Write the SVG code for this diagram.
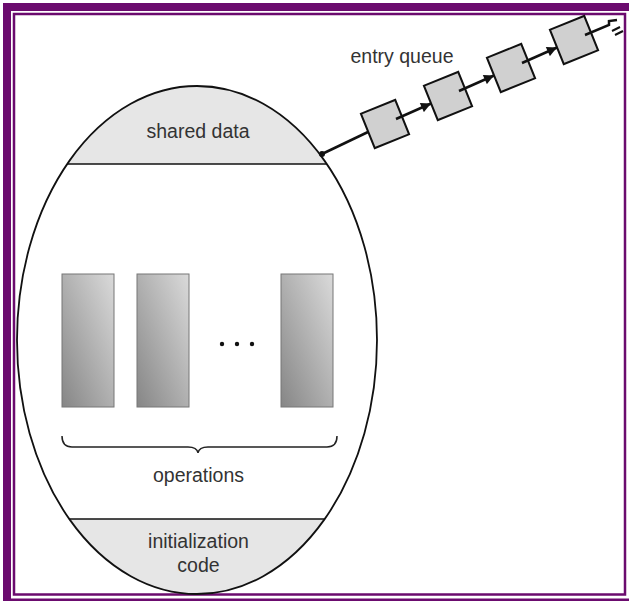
<svg xmlns="http://www.w3.org/2000/svg" width="629" height="601" viewBox="0 0 629 601">
<style>
.frame{fill:#6b0b6e}
.txt{font-family:"Liberation Sans",Arial,Helvetica,sans-serif;font-size:19.5px;fill:#333;text-anchor:middle}
.op{fill:url(#opg);stroke:#777;stroke-width:1}
.sq{fill:#d0d0d0;stroke:#111;stroke-width:2}
.ql{stroke:#111;stroke-width:2.5;fill:none}
</style>
<defs>
<linearGradient id="opg" x1="1" y1="0" x2="0" y2="1">
<stop offset="0" stop-color="#dadada"/>
<stop offset="1" stop-color="#868686"/>
</linearGradient>
<clipPath id="ellclip"><ellipse cx="197" cy="340" rx="180" ry="254"/></clipPath>
<marker id="ah" viewBox="0 0 10 10" refX="10" refY="5" markerWidth="5" markerHeight="4" orient="auto" markerUnits="strokeWidth">
<path d="M0,0 L10,5 L0,10 z" fill="#111"/>
</marker>
</defs>
<rect width="629" height="601" fill="#fff"/>
<g id="frame">
<rect class="frame" x="3" y="3" width="8" height="598"/>
<rect class="frame" x="3" y="3" width="626" height="8"/>
<rect class="frame" x="3" y="598.5" width="626" height="2.5"/>
<rect x="14" y="14" width="611" height="580.5" fill="none" stroke="#6b0b6e" stroke-width="2.5"/>
</g>
<g id="monitor">
<g clip-path="url(#ellclip)">
<rect x="0" y="80" width="400" height="84" fill="#e6e6e6"/>
<rect x="0" y="519" width="400" height="80" fill="#e6e6e6"/>
</g>
<ellipse cx="197" cy="340" rx="180" ry="254" fill="none" stroke="#111" stroke-width="1.8"/>
<line x1="60" y1="164" x2="340" y2="164" stroke="#111" stroke-width="1.5" clip-path="url(#ellclip)"/>
<line x1="60" y1="519" x2="340" y2="519" stroke="#111" stroke-width="1.5" clip-path="url(#ellclip)"/>
</g>
<g id="shared-data"><text class="txt" x="198" y="138">shared data</text></g>
<g id="operations">
<rect class="op" x="62" y="274" width="52" height="133"/>
<rect class="op" x="137" y="274" width="52" height="133"/>
<rect class="op" x="281" y="274" width="52" height="133"/>
<circle cx="222" cy="344" r="2.2" fill="#111"/>
<circle cx="237" cy="344" r="2.2" fill="#111"/>
<circle cx="252" cy="344" r="2.2" fill="#111"/>
<path d="M62,436 Q62,447 72,447 L188,447 Q197,447 198,453 Q199,447 208,447 L327,447 Q337,447 337,436" fill="none" stroke="#222" stroke-width="1.5"/>
<text class="txt" x="198.5" y="482">operations</text>
</g>
<g id="init-code">
<text class="txt" x="198.5" y="548">initialization</text>
<text class="txt" x="198.5" y="572">code</text>
</g>
<g id="entry-queue-label"><text class="txt" x="402" y="63">entry queue</text></g>
<g id="queue-item-1"><rect class="sq" x="-18.5" y="-18.5" width="37" height="37" transform="translate(385,124) rotate(-22)"/></g>
<g id="queue-item-2"><rect class="sq" x="-18.5" y="-18.5" width="37" height="37" transform="translate(448,96) rotate(-22)"/></g>
<g id="queue-item-3"><rect class="sq" x="-18.5" y="-18.5" width="37" height="37" transform="translate(511,68) rotate(-22)"/></g>
<g id="queue-item-4"><rect class="sq" x="-18.5" y="-18.5" width="37" height="37" transform="translate(574,40) rotate(-22)"/></g>
<g id="connectors">
<line class="ql" x1="322" y1="154" x2="368" y2="132"/>
<line class="ql" x1="396" y1="119" x2="431" y2="103.5" marker-end="url(#ah)"/>
<line class="ql" x1="459" y1="91" x2="494" y2="75.5" marker-end="url(#ah)"/>
<line class="ql" x1="522" y1="63" x2="557" y2="47.5" marker-end="url(#ah)"/>
<polyline class="ql" points="585,35 609,25 609,21 617,20"/>
<line x1="612" y1="31" x2="620" y2="27" stroke="#111" stroke-width="2"/>
<line x1="615" y1="35" x2="623" y2="31" stroke="#111" stroke-width="2"/>
<circle cx="322" cy="154" r="3" fill="#111"/>
</g>
</svg>
